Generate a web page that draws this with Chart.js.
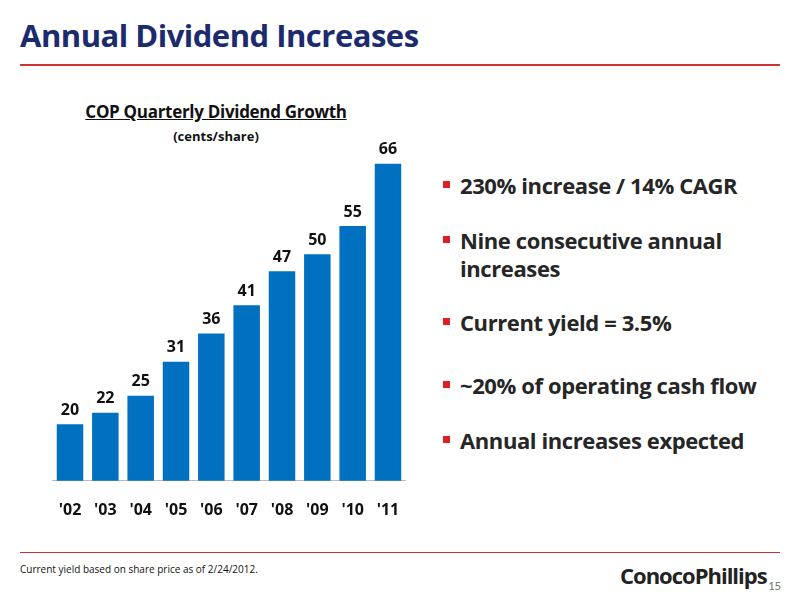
<!DOCTYPE html>
<html><head><meta charset="utf-8">
<script src="https://cdn.jsdelivr.net/npm/chart.js@4"></script>
<style>
body{margin:0;width:800px;height:600px;position:relative;background:#fff;font-family:Calibri,Carlito,"Open Sans",sans-serif;overflow:hidden}
.abs{position:absolute}
#title{left:20px;top:14px;font-size:31px;font-weight:bold;color:#1C2A6E;font-family:"Open Sans",sans-serif;letter-spacing:-0.5px}
.line{left:20px;width:760px;height:1.5px;background:#D03030}
.b{position:absolute;left:443px;font-size:22px;font-weight:bold;color:#262626;font-family:"Open Sans",sans-serif;line-height:28px;letter-spacing:-0.4px}
.b:before{content:"";position:absolute;left:0;top:10px;width:7px;height:7px;background:#E02020}
.b span{display:block;padding-left:17px}
</style></head><body>
<div id="title" class="abs">Annual Dividend Increases</div>
<div class="abs line" style="top:64px"></div>
<div class="abs" style="left:40px;width:352px;top:100px;text-align:center;font-family:'Open Sans',sans-serif;font-weight:bold;color:#111">
<div style="font-size:17px;text-decoration:underline;letter-spacing:-0.3px">COP Quarterly Dividend Growth</div>
<div style="font-size:13px;margin-top:4px">(cents/share)</div></div>
<div class="b" style="top:171px"><span>230% increase / 14% CAGR</span></div>
<div class="b" style="top:226px"><span>Nine consecutive annual<br>increases</span></div>
<div class="b" style="top:308px"><span>Current yield = 3.5%</span></div>
<div class="b" style="top:371px"><span>~20% of operating cash flow</span></div>
<div class="b" style="top:426px"><span>Annual increases expected</span></div>
<div class="abs line" style="top:552px;height:1px"></div>
<div class="abs" style="left:20px;top:562px;font-size:10px;color:#111;font-family:'Open Sans',sans-serif">Current yield based on share price as of 2/24/2012.</div>
<div class="abs" style="left:620px;top:560px;font-size:22px;font-weight:bold;color:#222;font-family:'Open Sans',sans-serif;letter-spacing:-1px">ConocoPhillips</div>
<div class="abs" style="left:768px;top:578px;font-size:13px;color:#777">15</div>
<div class="abs" style="left:47px;top:141px;width:364px;height:391px"><canvas id="c"></canvas></div>
<script>
const categories=["'02","'03","'04","'05","'06","'07","'08","'09","'10","'11"];
const values=[20,22,25,31,36,41,47,50,55,66];
const labelsPlugin={id:'lbl',afterDatasetsDraw(ch){const ctx=ch.ctx;ctx.save();ctx.font="bold 16px 'Open Sans',sans-serif";ctx.fillStyle='#111';ctx.textAlign='center';ctx.textBaseline='bottom';
ch.getDatasetMeta(0).data.forEach((b,i)=>ctx.fillText(values[i],b.x,b.y-6));ctx.restore();}};
new Chart(document.getElementById('c'),{type:'bar',data:{labels:categories,datasets:[{data:values,backgroundColor:'#0070C0',barPercentage:0.75,categoryPercentage:1}]},
options:{responsive:true,maintainAspectRatio:false,animation:false,layout:{padding:0},plugins:{legend:{display:false},tooltip:{enabled:false}},
scales:{y:{display:false,min:10,max:70},x:{grid:{display:false},border:{display:true,color:'#bbb'},ticks:{color:'#111',padding:12,font:{size:16,weight:'bold',family:"'Open Sans',sans-serif"}}}}},plugins:[labelsPlugin]});
</script></body></html>
